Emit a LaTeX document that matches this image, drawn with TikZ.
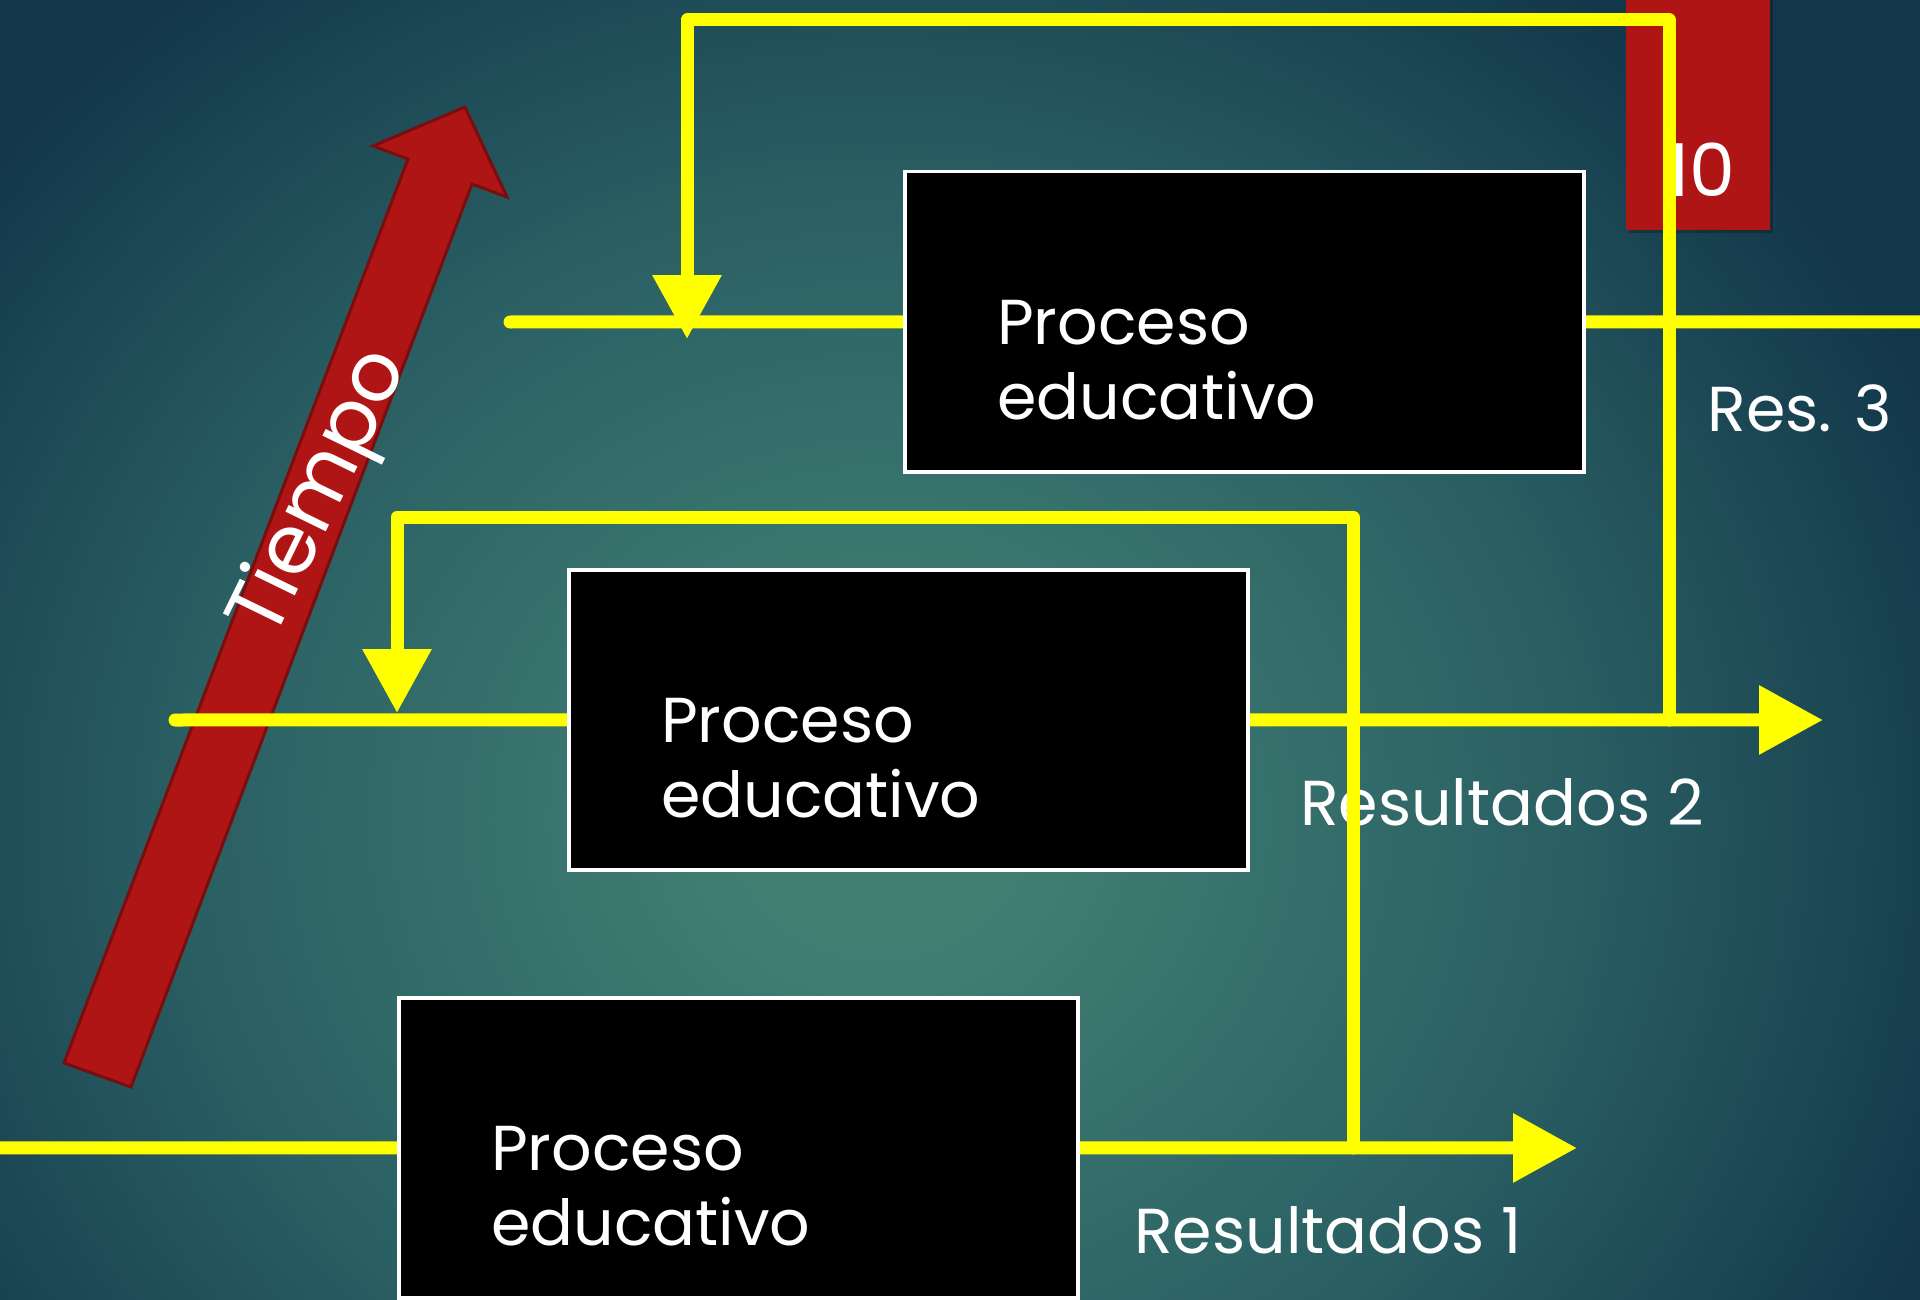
\documentclass[tikz,border=0pt]{standalone}
\IfFileExists{tgadventor.sty}{\usepackage[T1]{fontenc}\usepackage{tgadventor}\renewcommand{\familydefault}{\sfdefault}}{\usepackage{fontspec}\setmainfont{Poppins}}
\usetikzlibrary{arrows.meta,calc}
\definecolor{bgdark}{HTML}{12374A}
\definecolor{bgmid}{HTML}{2A5F63}
\definecolor{bglight}{HTML}{417F73}
\definecolor{redA}{HTML}{B01515}
\definecolor{redB}{HTML}{7A0D0D}
\definecolor{yl}{HTML}{FFFF00}
\pgfdeclareradialshading{bgshade}{\pgfpoint{0bp}{0bp}}{color(0bp)=(bglight); color(3bp)=(bglight); color(15bp)=(bgmid); color(25bp)=(bgdark); color(50bp)=(bgdark)}
\tikzset{
  yline/.style={draw=yl, line width=13pt, line cap=round, line join=round},
  ytip/.style={-{Triangle[length=64pt,width=66pt]}},
  pbox/.style={draw=white, line width=3.5pt, fill=black, minimum width=679pt, minimum height=300pt, inner sep=0pt, anchor=north west},
  btext/.style={text=white, font=\fontsize{63.5}{75.5}\selectfont, align=left, anchor=north west, inner sep=0pt},
  lbl/.style={text=white, font=\fontsize{63.5}{76}\selectfont, anchor=base, inner sep=0pt}
}
\begin{document}
\begin{tikzpicture}[x=1pt, y=-1pt]
\useasboundingbox (0,0) rectangle (1920,1300);
\clip (0,0) rectangle (1920,1300);
% background
\fill[bgdark] (0,0) rectangle (1920,1300);
\shade[shading=bgshade] (880,820) ellipse [x radius=1150, y radius=1050];
% time arrow
\draw[fill=redA, draw=redB, line width=3pt, line join=miter] (64,1063) -- (408,159) -- (373,146) -- (465,107) -- (507,197) -- (472,184) -- (131,1087) -- cycle;
\node[text=white, font=\fontsize{82}{90}\selectfont, rotate=64, inner sep=0pt] (tiempo) at (322,494) {Tiempo};
% slide number
\fill[black, opacity=.22] (1629,0) rectangle (1773,233);
\fill[redA] (1626,-2) rectangle (1770,230);
\node[text=white, font=\fontsize{73}{80}\selectfont, anchor=base, inner sep=0pt] (num) at (1701,197) {10};
% labels
\node[lbl] (lbl3) at (1800,431) {Res. 3};
\node[lbl] (lbl2) at (1502,825) {Resultados 2};
\node[lbl] (lbl1) at (1328,1253) {Resultados 1};
% boxes (positions)
\path (903,170) node[pbox, draw=none, fill=none] (b3) {};
\path (567,568) node[pbox, draw=none, fill=none] (b2) {};
\path (397,996) node[pbox, draw=none, fill=none] (b1) {};
% yellow lines
\coordinate (s3) at (510,322);
\coordinate (e3) at (1930,322);
\coordinate (s2) at (175,720);
\coordinate (e2) at (1823,720);
\coordinate (s1) at (-20,1148);
\coordinate (e1) at (1577,1148);
\coordinate (j1) at (1353,1148);
\coordinate (c2) at (397,517);
\coordinate (a2) at (397,713);
\coordinate (j2) at (1669,720);
\coordinate (c3) at (687,20);
\coordinate (a3) at (687,339);
\draw[yline] (s3) -- (b3.west);
\draw[yline] (b3.east) -- (e3);
\draw[yline] (s2) -- (b2.west);
\draw[yline, ytip] (b2.east) -- (e2);
\draw[yline] (s1) -- (b1.west);
\draw[yline, ytip] (b1.east) -- (e1);
\draw[yline, ytip] (j1) |- (c2) -- (a2);
\draw[yline, ytip] (j2) |- (c3) -- (a3);
% boxes drawn on top
\node[pbox] (bx3) at (b3.north west) {};
\node[pbox] (bx2) at (b2.north west) {};
\node[pbox] (bx1) at (b1.north west) {};
\node[btext] (t3) at ($(b3.north west)+(94,130)$) {Proceso\\educativo};
\node[btext] (t2) at ($(b2.north west)+(94,130)$) {Proceso\\educativo};
\node[btext] (t1) at ($(b1.north west)+(94,130)$) {Proceso\\educativo};
\end{tikzpicture}
\end{document}
